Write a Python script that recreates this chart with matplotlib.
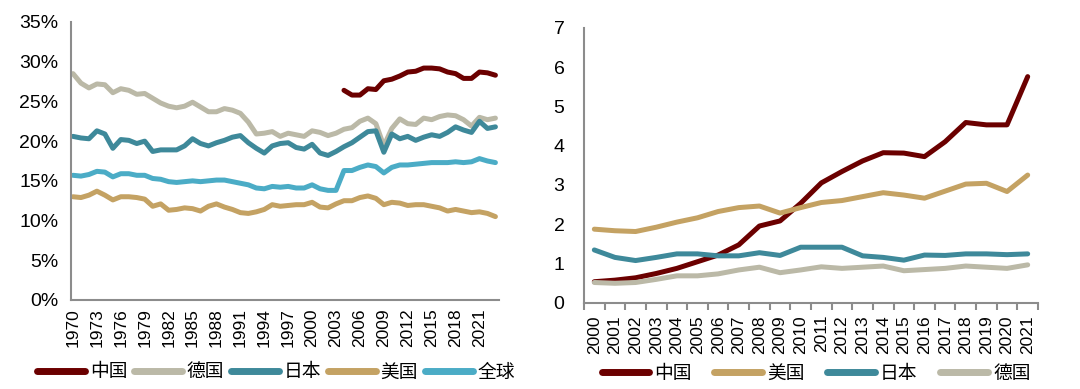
import numpy as np
import matplotlib
matplotlib.use("Agg")
import matplotlib.pyplot as plt
from matplotlib.ticker import FixedLocator, PercentFormatter

plt.rcParams['font.family'] = ['Liberation Sans', 'Noto Sans CJK SC', 'DejaVu Sans']

# left panel: share (%) by year, 1970-2023
years_left = list(range(1970, 2024))
germany_l = [28.5, 27.3, 26.7, 27.2, 27.1, 26.1, 26.6, 26.4, 25.9, 26.0,
             25.4, 24.8, 24.4, 24.2, 24.4, 24.9, 24.3, 23.7, 23.7, 24.1,
             23.9, 23.5, 22.4, 20.9, 21.0, 21.2, 20.6, 21.0, 20.8, 20.6,
             21.3, 21.1, 20.7, 21.0, 21.5, 21.7, 22.5, 22.9, 22.2, 19.4,
             21.6, 22.8, 22.2, 22.1, 22.9, 22.7, 23.1, 23.3, 23.2, 22.7,
             21.9, 23.0, 22.7, 22.9]
japan_l = [20.6, 20.4, 20.3, 21.3, 20.9, 19.1, 20.2, 20.1, 19.7, 20.0,
           18.7, 18.9, 18.9, 18.9, 19.4, 20.3, 19.7, 19.4, 19.8, 20.1,
           20.5, 20.7, 19.8, 19.1, 18.5, 19.4, 19.7, 19.8, 19.2, 19.0,
           19.6, 18.5, 18.2, 18.7, 19.3, 19.8, 20.5, 21.2, 21.3, 18.6,
           20.9, 20.3, 20.6, 20.1, 20.5, 20.8, 20.6, 21.1, 21.8, 21.4,
           21.1, 22.5, 21.6, 21.8]
usa_l = [13.0, 12.9, 13.2, 13.7, 13.2, 12.6, 13.0, 13.0, 12.9, 12.7,
         11.8, 12.1, 11.3, 11.4, 11.6, 11.5, 11.2, 11.8, 12.1, 11.7,
         11.4, 11.0, 10.9, 11.1, 11.4, 12.0, 11.8, 11.9, 12.0, 12.0,
         12.3, 11.7, 11.6, 12.1, 12.5, 12.5, 12.9, 13.1, 12.8, 12.0,
         12.3, 12.2, 11.9, 12.0, 12.0, 11.8, 11.6, 11.2, 11.4, 11.2,
         11.0, 11.1, 10.9, 10.5]
world_l = [15.7, 15.6, 15.8, 16.2, 16.1, 15.5, 15.9, 15.9, 15.7, 15.7,
           15.3, 15.2, 14.9, 14.8, 14.9, 15.0, 14.9, 15.0, 15.1, 15.1,
           14.9, 14.7, 14.5, 14.1, 14.0, 14.3, 14.2, 14.3, 14.1, 14.1,
           14.5, 14.0, 13.8, 13.8, 16.3, 16.3, 16.7, 17.0, 16.8, 16.0,
           16.7, 17.0, 17.0, 17.1, 17.2, 17.3, 17.3, 17.3, 17.4, 17.3,
           17.4, 17.8, 17.5, 17.3]
years_china_l = list(range(2004, 2024))
china_l = [26.4, 25.8, 25.8, 26.6, 26.5, 27.6, 27.8, 28.2, 28.7, 28.8,
           29.2, 29.2, 29.1, 28.7, 28.5, 27.9, 27.9, 28.7, 28.6, 28.3]
left_ticks = list(range(1970, 2022, 3))

# right panel: values by year, 2000-2021
years_right = [str(y) for y in range(2000, 2022)]
china_r = [0.53, 0.57, 0.63, 0.74, 0.87, 1.04, 1.21, 1.47, 1.95, 2.08, 2.53,
           3.05, 3.34, 3.61, 3.82, 3.81, 3.72, 4.10, 4.59, 4.53, 4.53, 5.76]
usa_r = [1.87, 1.83, 1.81, 1.92, 2.05, 2.16, 2.32, 2.42, 2.46, 2.28, 2.42,
         2.55, 2.60, 2.70, 2.80, 2.74, 2.66, 2.84, 3.02, 3.04, 2.83, 3.25]
japan_r = [1.34, 1.15, 1.07, 1.15, 1.24, 1.24, 1.19, 1.19, 1.27, 1.20, 1.41,
           1.41, 1.41, 1.19, 1.15, 1.08, 1.21, 1.20, 1.24, 1.24, 1.22, 1.24]
germany_r = [0.51, 0.49, 0.51, 0.59, 0.68, 0.68, 0.73, 0.83, 0.90, 0.76, 0.83,
             0.91, 0.87, 0.90, 0.93, 0.81, 0.84, 0.87, 0.93, 0.90, 0.87, 0.96]

C_CHINA = '#6B0000'
C_GERMANY = '#BBB9A7'
C_JAPAN = '#3E899A'
C_USA = '#C4A263'
C_WORLD = '#4BACC6'
AXIS_GREY = '#8C8C8C'
LW = 3.6
LEG_FONT = {'family': ['Noto Sans CJK SC'], 'size': 13.5}

fig = plt.figure(figsize=(10.8, 3.89), dpi=100)
W, H = 1080, 389

# ---- left chart
ax1 = fig.add_axes([71 / W, 1 - 300 / H, 428 / W, 278 / H])
ax1.plot(years_china_l, china_l, color=C_CHINA, lw=LW, label='中国', solid_capstyle='round')
ax1.plot(years_left, germany_l, color=C_GERMANY, lw=LW, label='德国', solid_capstyle='round')
ax1.plot(years_left, japan_l, color=C_JAPAN, lw=LW, label='日本', solid_capstyle='round')
ax1.plot(years_left, usa_l, color=C_USA, lw=LW, label='美国', solid_capstyle='round')
ax1.plot(years_left, world_l, color=C_WORLD, lw=LW, label='全球', solid_capstyle='round')
ax1.set_xlim(1969.75, 2023.45)
ax1.set_ylim(0, 35)
ax1.set_yticks(range(0, 36, 5))
ax1.yaxis.set_major_formatter(PercentFormatter(decimals=0))
ax1.set_xticks(left_ticks)
ax1.set_xticklabels([str(y) for y in left_ticks], rotation=90)
ax1.tick_params(axis='x', length=0, pad=6, labelsize=12.5)
ax1.tick_params(axis='y', length=0, pad=9, labelsize=14)
for s in ('top', 'right'):
    ax1.spines[s].set_visible(False)
for s in ('left', 'bottom'):
    ax1.spines[s].set_color(AXIS_GREY)
    ax1.spines[s].set_linewidth(1.5)

leg1 = fig.legend(*ax1.get_legend_handles_labels(), loc='center', ncol=5,
                  bbox_to_anchor=(276 / W, 1 - 372 / H), frameon=False,
                  handlelength=2.55, handletextpad=0.27, columnspacing=0.35,
                  prop=LEG_FONT)
for h in leg1.get_lines():
    h.set_linewidth(5)
    h.set_solid_capstyle('round')

# ---- right chart
ax2 = fig.add_axes([584 / W, 1 - 302.5 / H, 454 / W, 274.5 / H])
x = np.arange(len(years_right))
ax2.plot(x, china_r, color=C_CHINA, lw=LW, label='中国', solid_capstyle='round')
ax2.plot(x, usa_r, color=C_USA, lw=LW, label='美国', solid_capstyle='round')
ax2.plot(x, japan_r, color=C_JAPAN, lw=LW, label='日本', solid_capstyle='round')
ax2.plot(x, germany_r, color=C_GERMANY, lw=LW, label='德国', solid_capstyle='round')
ax2.set_xlim(-0.5, len(years_right) - 0.5)
ax2.set_ylim(0, 7)
ax2.set_yticks(range(0, 8))
ax2.set_xticks(x)
ax2.set_xticklabels(years_right, rotation=90)
ax2.xaxis.set_minor_locator(FixedLocator(np.arange(-0.5, len(years_right), 1.0)))
ax2.tick_params(axis='x', which='major', length=0, pad=9, labelsize=12.5)
ax2.tick_params(axis='x', which='minor', length=5, width=1.5, color=AXIS_GREY, direction='out')
ax2.tick_params(axis='y', length=0, pad=14, labelsize=14)
for s in ('top', 'right'):
    ax2.spines[s].set_visible(False)
for s in ('left', 'bottom'):
    ax2.spines[s].set_color(AXIS_GREY)
    ax2.spines[s].set_linewidth(1.5)

leg2 = fig.legend(*ax2.get_legend_handles_labels(), loc='center', ncol=4,
                  bbox_to_anchor=(816 / W, 1 - 373 / H), frameon=False,
                  handlelength=2.55, handletextpad=0.27, columnspacing=1.2,
                  prop=LEG_FONT)
for h in leg2.get_lines():
    h.set_linewidth(5)
    h.set_solid_capstyle('round')

fig.savefig('out.png', dpi=100)
